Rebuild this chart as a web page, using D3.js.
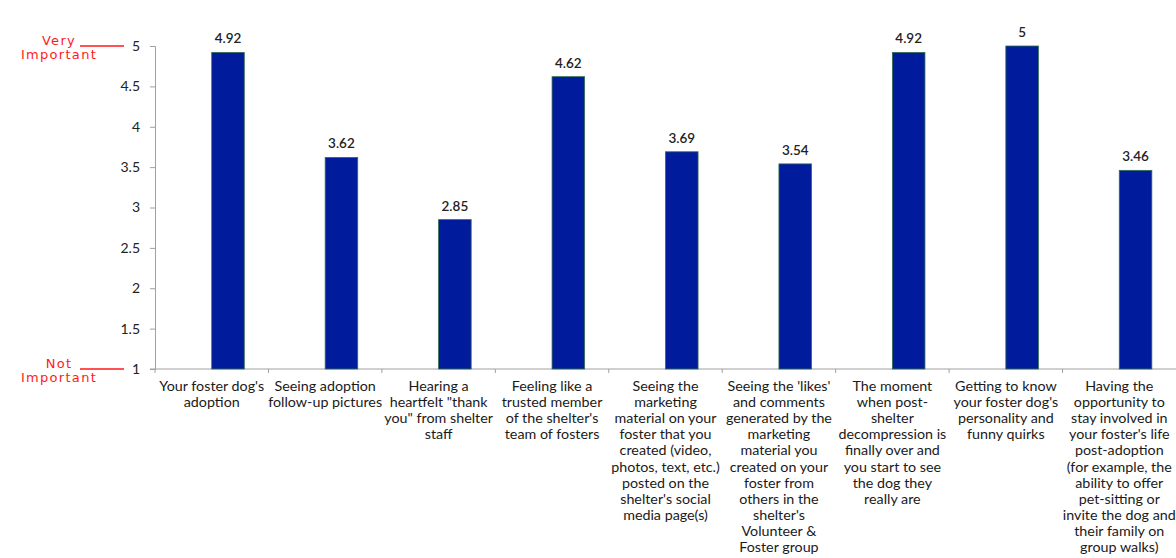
<!DOCTYPE html>
<html>
<head>
<meta charset="utf-8">
<script src="https://cdn.jsdelivr.net/npm/d3@7"></script>
<style>
  body { margin: 0; background: #fff; }
  svg text { font-family: Lato, "Open Sans", sans-serif; }
</style>
</head>
<body>
<div id="chart"></div>
<script>
const categories = [
  "Your foster dog's adoption",
  "Seeing adoption follow-up pictures",
  "Hearing a heartfelt \"thank you\" from shelter staff",
  "Feeling like a trusted member of the shelter's team of fosters",
  "Seeing the marketing material on your foster that you created (video, photos, text, etc.) posted on the shelter's social media page(s)",
  "Seeing the 'likes' and comments generated by the marketing material you created on your foster from others in the shelter's Volunteer & Foster group",
  "The moment when post-shelter decompression is finally over and you start to see the dog they really are",
  "Getting to know your foster dog's personality and funny quirks",
  "Having the opportunity to stay involved in your foster's life post-adoption (for example, the ability to offer pet-sitting or invite the dog and their family on group walks)"
];
const labelLines = [
  ["Your foster dog's", "adoption"],
  ["Seeing adoption", "follow-up pictures"],
  ["Hearing a", "heartfelt \"thank", "you\" from shelter", "staff"],
  ["Feeling like a", "trusted member", "of the shelter's", "team of fosters"],
  ["Seeing the", "marketing", "material on your", "foster that you", "created (video,", "photos, text, etc.)", "posted on the", "shelter's social", "media page(s)"],
  ["Seeing the 'likes'", "and comments", "generated by the", "marketing", "material you", "created on your", "foster from", "others in the", "shelter's", "Volunteer &", "Foster group"],
  ["The moment", "when post-", "shelter", "decompression is", "finally over and", "you start to see", "the dog they", "really are"],
  ["Getting to know", "your foster dog's", "personality and", "funny quirks"],
  ["Having the", "opportunity to", "stay involved in", "your foster's life", "post-adoption", "(for example, the", "ability to offer", "pet-sitting or", "invite the dog and", "their family on", "group walks)"]
];
const values = [4.92, 3.62, 2.85, 4.62, 3.69, 3.54, 4.92, 5, 3.46];
const valueLabels = ["4.92", "3.62", "2.85", "4.62", "3.69", "3.54", "4.92", "5", "3.46"];
const yTicks = [1, 1.5, 2, 2.5, 3, 3.5, 4, 4.5, 5];
const yTickLabels = ["1", "1.5", "2", "2.5", "3", "3.5", "4", "4.5", "5"];
const scaleNotes = [
  { value: 5, lines: ["Very", "Important"] },
  { value: 1, lines: ["Not", "Important"] }
];

const width = 1176, height = 558;
const svg = d3.select("#chart").append("svg")
  .attr("width", width)
  .attr("height", height);

const x = d3.scaleBand()
  .domain(categories)
  .range([155, 1176])
  .padding(0);

const y = d3.scaleLinear()
  .domain([1, 5])
  .range([369, 46]);

const bw = x.bandwidth();

// y axis
const yAxis = svg.append("g")
  .attr("transform", "translate(155,0)")
  .call(d3.axisLeft(y).tickValues(yTicks).tickFormat((d, i) => yTickLabels[i]).tickSize(5).tickPadding(10));
yAxis.select(".domain").attr("stroke", "#a0a0a0");
yAxis.selectAll(".tick line").attr("stroke", "#a0a0a0");
yAxis.selectAll(".tick text")
  .attr("fill", "#222")
  .style("font-size", "14px");

// x axis with tick marks on band boundaries
const xAxis = svg.append("g")
  .attr("transform", "translate(0,369)");
xAxis.append("line")
  .attr("x1", 150).attr("x2", 1176)
  .attr("stroke", "#a0a0a0");
xAxis.selectAll("line.bound")
  .data(categories)
  .enter().append("line")
  .attr("class", "bound")
  .attr("x1", d => x(d)).attr("x2", d => x(d))
  .attr("y1", 0).attr("y2", 4)
  .attr("stroke", "#a0a0a0");

// bars (sit right of band centre as in original)
svg.selectAll("rect.bar")
  .data(values)
  .enter().append("rect")
  .attr("class", "bar")
  .attr("x", (d, i) => x(categories[i]) + bw * 0.5)
  .attr("width", bw * 0.287)
  .attr("y", d => y(d))
  .attr("height", d => y(1) - y(d))
  .attr("fill", "#001b9c")
  .attr("stroke", "#2f6f4a")
  .attr("stroke-width", 0.8);

// value labels
svg.selectAll("text.val")
  .data(values)
  .enter().append("text")
  .attr("class", "val")
  .attr("x", (d, i) => x(categories[i]) + bw * 0.5 + bw * 0.1435)
  .attr("y", d => y(d) - 9)
  .attr("text-anchor", "middle")
  .attr("fill", "#222")
  .style("font-size", "13.5px")
  .style("font-weight", "600")
  .text((d, i) => valueLabels[i]);

// category labels
const catG = svg.selectAll("text.cat")
  .data(categories)
  .enter().append("text")
  .attr("class", "cat")
  .attr("x", d => x(d) + bw / 2)
  .attr("y", 391)
  .attr("text-anchor", "middle")
  .attr("fill", "#1a1a1a")
  .style("font-size", "14.3px");
catG.selectAll("tspan")
  .data((d, i) => labelLines[i])
  .enter().append("tspan")
  .attr("x", function () { return d3.select(this.parentNode).attr("x"); })
  .attr("dy", (d, i) => i === 0 ? 0 : 16.1)
  .text(d => d);

// red scale notes
const notes = svg.selectAll("g.note")
  .data(scaleNotes)
  .enter().append("g")
  .attr("class", "note");
notes.append("line")
  .attr("x1", 80).attr("x2", 124)
  .attr("y1", d => y(d.value)).attr("y2", d => y(d.value))
  .attr("stroke", "#ff1a1a")
  .attr("stroke-width", 1.5);
notes.append("text")
  .attr("x", 59)
  .attr("y", d => y(d.value) - 1)
  .attr("text-anchor", "middle")
  .attr("fill", "#ff1a1a")
  .style("font-family", "'DejaVu Sans', Verdana, sans-serif")
  .style("font-size", "13px")
  .style("letter-spacing", "1.3px")
  .selectAll("tspan")
  .data(d => d.lines)
  .enter().append("tspan")
  .attr("x", 59)
  .attr("dy", (d, i) => i === 0 ? 0 : 14)
  .text(d => d);
</script>
</body>
</html>
